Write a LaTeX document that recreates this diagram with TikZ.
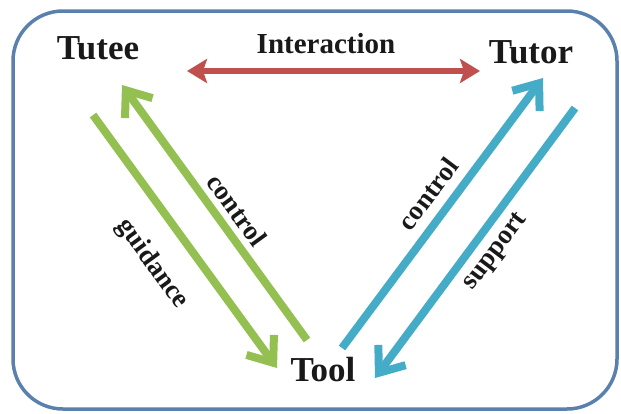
\documentclass[tikz,border=0pt]{standalone}
\usepackage{fontspec}
\setmainfont{Liberation Serif}
\usetikzlibrary{arrows.meta}
\definecolor{frameblue}{HTML}{5A80AE}
\definecolor{arrgreen}{HTML}{94C052}
\definecolor{arrblue}{HTML}{45ACC8}
\definecolor{arrred}{HTML}{C0504D}
\tikzset{
  bigtext/.style={font=\fontsize{35}{40}\selectfont\bfseries, inner sep=0pt, text=black!90},
  midtext/.style={font=\fontsize{29}{32}\selectfont\bfseries, inner sep=0pt, text=black!90},
  lbltext/.style={font=\fontsize{27}{30}\selectfont\bfseries, inner sep=0pt, text=black!90},
  flowarrow/.style={line width=8pt, -{Straight Barb[length=22pt, width=34pt, line width=8pt]}},
  redarrow/.style={line width=6pt, arrred, {Stealth[length=20pt, width=24pt, inset=4pt]}-{Stealth[length=20pt, width=24pt, inset=4pt]}}
}
\begin{document}
\begin{tikzpicture}[x=1pt, y=-1pt]
\useasboundingbox (0,0) rectangle (621,413);
\draw[frameblue, line width=3.5pt, rounded corners=50pt] (13,11) rectangle (617,409);

\node[bigtext] (tutee) at (98,48) {Tutee};
\node[bigtext] (tutor) at (531,52) {Tutor};
\node[bigtext] (tool) at (323,370) {Tool};
\node[midtext] (inter) at (326,44) {Interaction};

\coordinate (rL) at (187,71);
\coordinate (rR) at (480,71);
\draw[redarrow] (rL) -- (rR);

\coordinate (gUa) at (307,340);
\coordinate (gUb) at (122,85);
\coordinate (gDa) at (93,115);
\coordinate (gDb) at (277,368);
\draw[flowarrow, arrgreen] (gUa) -- (gUb);
\draw[flowarrow, arrgreen] (gDa) -- (gDb);

\coordinate (bUa) at (342,348);
\coordinate (bUb) at (543,78);
\coordinate (bDa) at (575,108);
\coordinate (bDb) at (375,378);
\draw[flowarrow, arrblue] (bUa) -- (bUb);
\draw[flowarrow, arrblue] (bDa) -- (bDb);

\node[lbltext, rotate=-54] (gctrl) at (237,210) {control};
\node[lbltext, rotate=-54] (guid) at (152,264) {guidance};
\node[lbltext, rotate=53] (bctrl) at (428,194) {control};
\node[lbltext, rotate=53] (supp) at (496,252) {support};
\end{tikzpicture}
\end{document}
